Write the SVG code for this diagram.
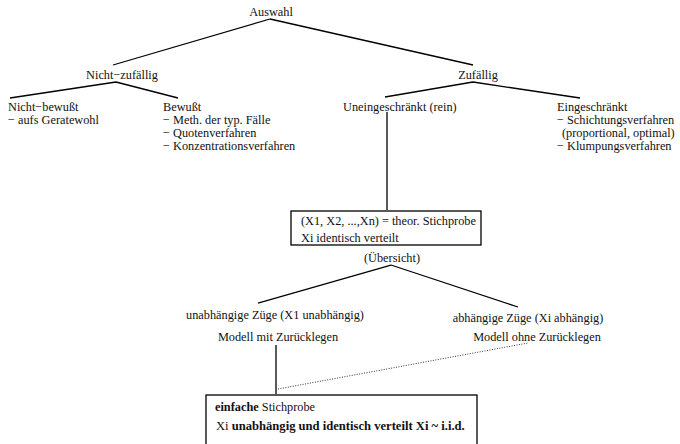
<svg xmlns="http://www.w3.org/2000/svg" width="680" height="444" viewBox="0 0 680 444">
<style>
text{font-family:"Liberation Serif","Times New Roman",serif;font-size:12.3px;fill:#111}
.c{text-anchor:middle}
.b{font-weight:bold}
.ln{stroke:#000;stroke-width:1.3;fill:none}
.dot{stroke:#333;stroke-width:1;stroke-dasharray:1 1.5;fill:none}
.box{fill:#fff;stroke:#000;stroke-width:1.3}
</style>
<rect width="680" height="444" fill="#fff"/>
<g id="connectors">
<path class="ln" d="M270 19 L113 65 M270 19 L473 65"/>
<path class="ln" d="M116 82 L10 98 M116 82 L178 98"/>
<path class="ln" d="M473 82 L385 97 M473 82 L580 98"/>
<path class="ln" d="M387 112 L387 210"/>
<path class="ln" d="M391 265 L258 303 M391 265 L518 307"/>
<path class="ln" d="M276 345 L276 394"/>
<path class="dot" d="M278 389 L528 343"/>
</g>
<g id="auswahl"><text class="c" x="271" y="16">Auswahl</text></g>
<g id="nicht-zufaellig"><text class="c" x="122" y="79">Nicht−zufällig</text></g>
<g id="zufaellig"><text class="c" x="478" y="79">Zufällig</text></g>
<g id="nicht-bewusst">
<text x="8" y="111">Nicht−bewußt</text>
<text x="8" y="124">− aufs Geratewohl</text>
</g>
<g id="bewusst">
<text x="163" y="111">Bewußt</text>
<text x="163" y="124">− Meth. der typ. Fälle</text>
<text x="163" y="137">− Quotenverfahren</text>
<text x="163" y="150">− Konzentrationsverfahren</text>
</g>
<g id="uneingeschraenkt"><text x="343" y="111">Uneingeschränkt (rein)</text></g>
<g id="eingeschraenkt">
<text x="557" y="111">Eingeschränkt</text>
<text x="557" y="124">− Schichtungsverfahren</text>
<text x="562" y="137">(proportional, optimal)</text>
<text x="557" y="150">− Klumpungsverfahren</text>
</g>
<g id="theor-stichprobe">
<rect class="box" x="291" y="211" width="190" height="34"/>
<text x="301" y="225">(X1, X2, ...,Xn) = theor. Stichprobe</text>
<text x="301" y="242">Xi identisch verteilt</text>
</g>
<g id="uebersicht"><text class="c" x="392" y="262">(Übersicht)</text></g>
<g id="unabhaengig">
<text class="c" x="275" y="319">unabhängige Züge (X1 unabhängig)</text>
<text class="c" x="278" y="341">Modell mit Zurücklegen</text>
</g>
<g id="abhaengig">
<text class="c" x="528" y="322">abhängige Züge (Xi abhängig)</text>
<text class="c" x="537" y="341">Modell ohne Zurücklegen</text>
</g>
<g id="einfache-stichprobe">
<rect class="box" x="206" y="395" width="271" height="60"/>
<text x="215" y="411"><tspan class="b">einfache</tspan> Stichprobe</text>
<text x="216" y="430" style="font-size:12.6px">Xi <tspan class="b">unabhängig und identisch verteilt Xi ~ i.i.d.</tspan></text>
</g>
</svg>
